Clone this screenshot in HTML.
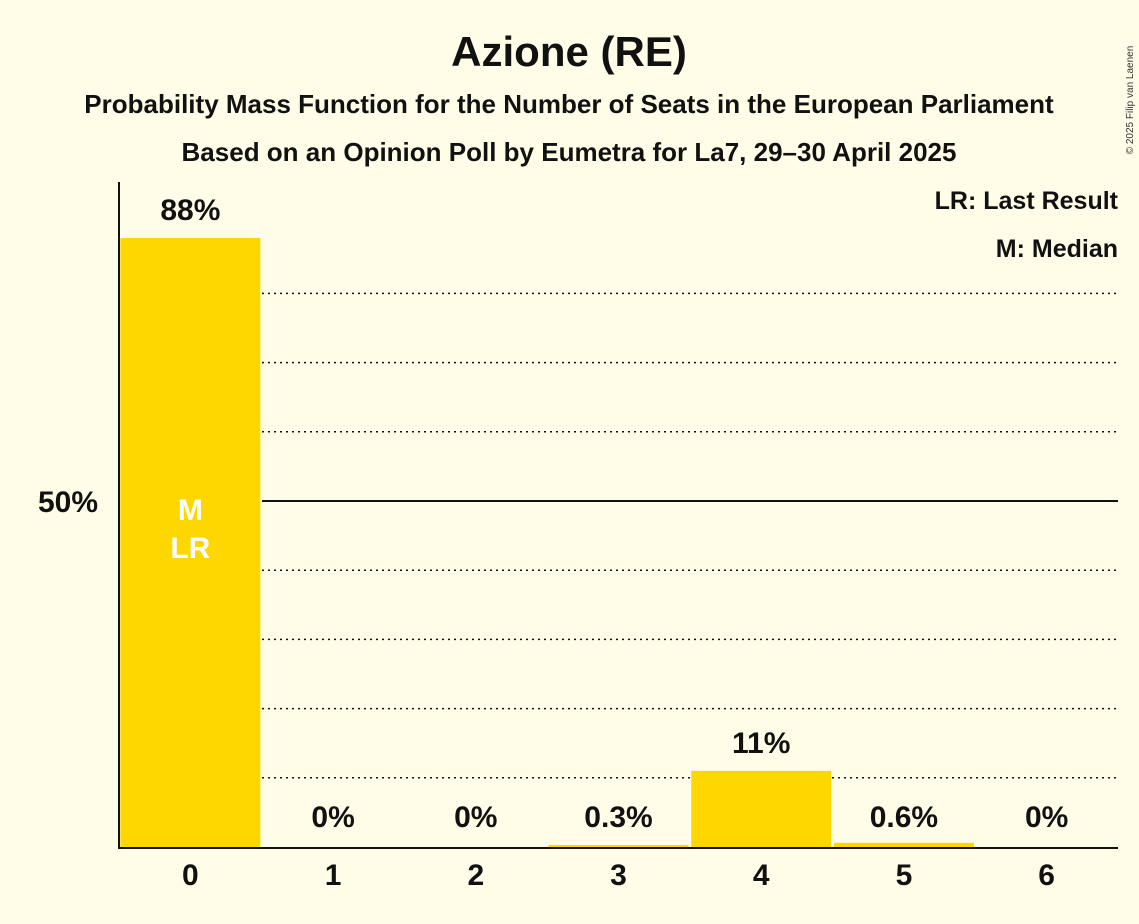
<!DOCTYPE html>
<html><head><meta charset="utf-8"><style>
body{margin:0;background:#fffde7;}
svg{display:block;font-family:"Liberation Sans",sans-serif;}
</style></head><body>
<svg id="chart" width="1139" height="924">
<rect width="1139" height="924" fill="#fffde7"/>
<text x="569" y="66" text-anchor="middle" font-size="42" font-weight="bold" fill="#111">Azione (RE)</text>
<text x="569" y="113" text-anchor="middle" font-size="26" font-weight="bold" fill="#111">Probability Mass Function for the Number of Seats in the European Parliament</text>
<text x="569" y="161" text-anchor="middle" font-size="26" font-weight="bold" fill="#111">Based on an Opinion Poll by Eumetra for La7, 29–30 April 2025</text>
<text x="1133" y="100" font-size="10" fill="#333" transform="rotate(-90 1133 100)" text-anchor="middle">© 2025 Filip van Laenen</text>
<text x="1118" y="209" text-anchor="end" font-size="25" font-weight="bold" fill="#111">LR: Last Result</text>
<text x="1118" y="257" text-anchor="end" font-size="25" font-weight="bold" fill="#111">M: Median</text>
<g id="grid"></g><g id="bars"></g><g id="labels"></g>
<line x1="119" y1="182" x2="119" y2="848" stroke="#111" stroke-width="2"/>
<line x1="118" y1="848" x2="1118" y2="848" stroke="#111" stroke-width="2"/>
<text x="98" y="512" text-anchor="end" font-size="30" font-weight="bold" fill="#111">50%</text>
</svg>
<script>
const categories=["0","1","2","3","4","5","6"];
const values=[88,0,0,0.3,11,0.6,0];
const valueLabels=["88%","0%","0%","0.3%","11%","0.6%","0%"];
const gridTicks=[10,20,30,40,50,60,70,80];
const medianIndex=0, lastResultIndex=0;
const NS="http://www.w3.org/2000/svg";
const x0=119,x1=1118,yb=847,y50=501;
const bw=(x1-x0)/categories.length;
const y=v=>yb-(yb-y50)*v/50;
const cx=i=>x0+bw*(i+0.5);
function mk(t,a,p){const e=document.createElementNS(NS,t);for(const k in a)e.setAttribute(k,a[k]);document.getElementById(p).appendChild(e);return e;}
gridTicks.forEach(t=>{
 const l=mk('line',{x1:262,x2:x1,y1:y(t),y2:y(t),stroke:'#111','stroke-width':t===50?2:1.5,'stroke-dasharray':t===50?'none':'2,4'},'grid');
 
 
});
categories.forEach((c,i)=>{
 const v=values[i];
 if(v>0){
  const r=mk('rect',{x:cx(i)-70,y:y(v),width:140,height:yb-y(v),fill:'#ffd700'},'bars');
  
  
 }
 const lab=mk('text',{x:cx(i),y:(v>5?y(v)-18:yb-20),'text-anchor':'middle','font-size':30,'font-weight':'bold',fill:'#111'},'labels');
 lab.textContent=valueLabels[i];
 
 
 const xt=mk('text',{x:cx(i),y:885,'text-anchor':'middle','font-size':30,'font-weight':'bold',fill:'#111'},'labels');
 xt.textContent=c;
 
 
});
const m=mk('text',{x:cx(medianIndex),y:520,'text-anchor':'middle','font-size':30,'font-weight':'bold',fill:'#fff'},'labels');
m.textContent='M';


const lr=mk('text',{x:cx(lastResultIndex),y:558,'text-anchor':'middle','font-size':30,'font-weight':'bold',fill:'#fff'},'labels');
lr.textContent='LR';


</script>
</body></html>
